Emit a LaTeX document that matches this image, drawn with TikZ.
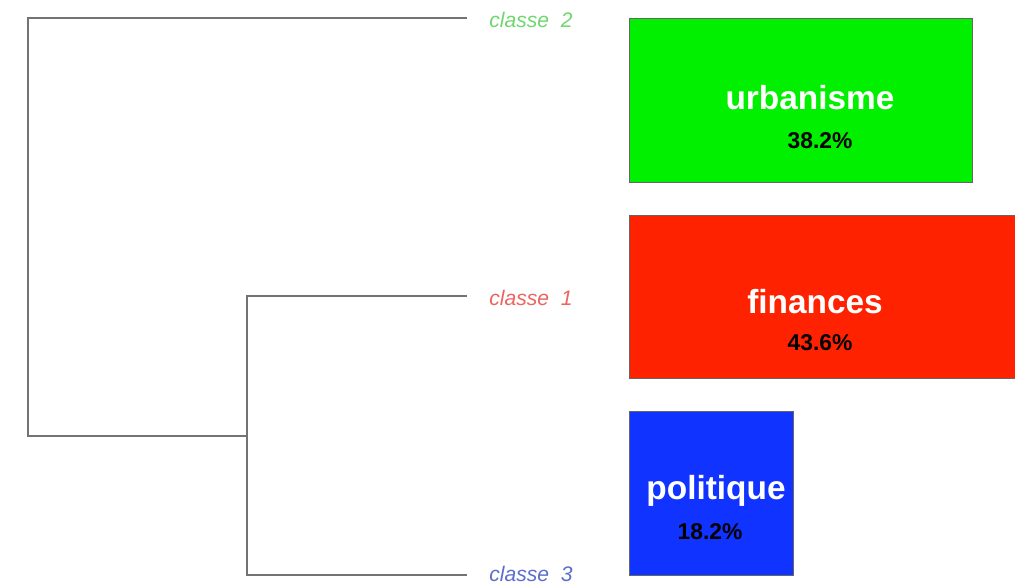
\documentclass[tikz,border=0pt]{standalone}
\usepackage{fontspec}
\setmainfont{Liberation Sans}
\usepackage{tikz}
\usetikzlibrary{positioning}
\definecolor{clgreen}{RGB}{110,215,110}
\definecolor{clred}{RGB}{235,100,95}
\definecolor{clblue}{RGB}{90,110,205}
\definecolor{boxgreen}{RGB}{0,240,0}
\definecolor{boxred}{RGB}{255,34,0}
\definecolor{boxblue}{RGB}{17,51,255}

\begin{document}
\begin{tikzpicture}[
        branch/.style={draw=black!55, line width=1.1pt},
        leaflabel/.style={anchor=west, font=\itshape\fontsize{12}{14}\selectfont, inner sep=0pt},
        classbox/.style={draw=black!60, line width=0.6pt, anchor=north west, inner sep=0pt},
        classname/.style={text=white, font=\bfseries\fontsize{19}{22}\selectfont},
        classpct/.style={text=black, font=\bfseries\fontsize{13}{15}\selectfont}
    ]
        \useasboundingbox (0,0) rectangle (20.3,-11.68);

        % dendrogramme
        \coordinate (root) at (0.56,-8.72);
        \coordinate (inner) at (4.94,-8.72);
        \coordinate (leaf2) at (9.34,-0.36);
        \coordinate (leaf1) at (9.34,-5.92);
        \coordinate (leaf3) at (9.34,-11.5);
        \draw[branch] (leaf2) -| (root) -- (inner);
        \draw[branch] (leaf1) -| (inner) |- (leaf3);

        \node[leaflabel, text=clgreen, right=0.44cm of leaf2, yshift=-0.04cm] (lab2) {classe~~2};
        \node[leaflabel, text=clred, right=0.44cm of leaf1, yshift=-0.04cm] (lab1) {classe~~1};
        \node[leaflabel, text=clblue, right=0.44cm of leaf3, yshift=0.03cm] (lab3) {classe~~3};

        % classes
        \node[classbox, fill=boxgreen, minimum width=6.86cm, minimum height=3.28cm] (urb) at (12.58,-0.36) {};
        \node[classbox, fill=boxred, minimum width=7.8cm, minimum height=3.26cm] (fin) at (12.58,-4.30) {};
        \node[classbox, fill=boxblue, minimum width=3.28cm, minimum height=3.28cm] (pol) at (12.58,-8.22) {};

        \node[classname] (urbname) at (16.2,-1.96) {urbanisme};
        \node[classpct] (urbpct) at (16.4,-2.82) {38.2\%};
        \node[classname] (finname) at (16.3,-6.04) {finances};
        \node[classpct] (finpct) at (16.4,-6.86) {43.6\%};
        \node[classname] (polname) at (14.32,-9.82) {politique};
        \node[classpct] (polpct) at (14.2,-10.64) {18.2\%};
    \end{tikzpicture}
\end{document}
